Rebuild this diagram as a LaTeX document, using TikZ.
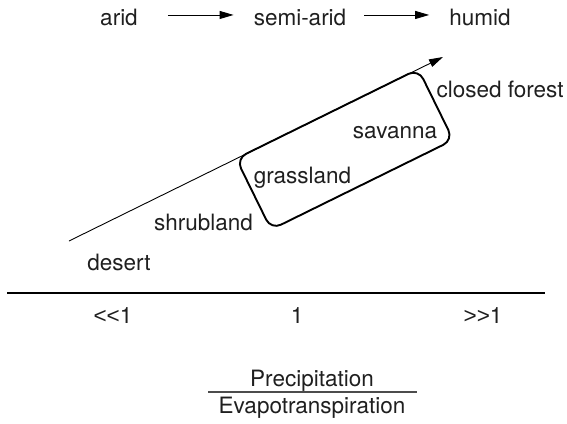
\documentclass[tikz,border=0pt]{standalone}
\usepackage{fontspec}
\setmainfont{TeX Gyre Heros}
\newfontfamily\symfont{Liberation Sans}
\usetikzlibrary{arrows.meta}
\begin{document}
\begin{tikzpicture}[x=1pt,y=-1pt,
  lbl/.style={inner sep=0pt,anchor=base,text=black!88,font=\fontsize{22.5}{27}\selectfont},
  toparrow/.style={line width=0.9pt,-{Triangle[length=14pt,width=8pt]}},
  mainarrow/.style={line width=0.9pt,-{Triangle[length=14pt,width=8pt]}},
  zonebox/.style={draw,line width=1.9pt,rounded corners=11pt,rotate=26.2,minimum width=203pt,minimum height=79pt,inner sep=0pt},
  axisline/.style={line width=1.2pt},
  fracline/.style={line width=1.4pt,draw=black!70}]
\useasboundingbox (0,0) rectangle (567,423);
% top row
\node[lbl] (arid) at (119,25) {arid};
\node[lbl] (semi) at (300,25) {semi-arid};
\node[lbl] (humid) at (480,25) {humid};
\draw[toparrow,shorten <=30pt,shorten >=20pt] ([yshift=2pt]arid.east) -- ([yshift=2pt]semi.west);
\draw[toparrow,shorten <=18pt,shorten >=20pt] ([yshift=2pt]semi.east) -- ([yshift=2pt]humid.west);
% gradient arrow and box
\coordinate (start) at (69,241);
\coordinate (tip) at (443,57);
\draw[mainarrow] (start) -- (tip);
\node[zonebox] (zone) at (344.7,149.3) {};
% biome labels
\node[lbl] (forest) at (500,97) {closed forest};
\node[lbl] (savanna) at (395,138) {savanna};
\node[lbl] (grass) at (302.5,183) {grassland};
\node[lbl] (shrub) at (203.5,230) {shrubland};
\node[lbl] (desert) at (119,270) {desert};
% axis
\coordinate (axL) at (7,293);
\coordinate (axR) at (545,293);
\draw[axisline] (axL) -- (axR);
\node[lbl] (low) at (113,323) {{\symfont <{}<}1};
\node[lbl] (one) at (297,323) {1};
\node[lbl] (high) at (483,323) {{\symfont >{}>}1};
% ratio
\node[lbl] (precip) at (312,386) {Precipitation};
\node[lbl] (evap) at (312,413) {Evapotranspiration};
\coordinate (fL) at (208,392);
\coordinate (fR) at (417,392);
\draw[fracline] (fL) -- (fR);
\end{tikzpicture}
\end{document}
